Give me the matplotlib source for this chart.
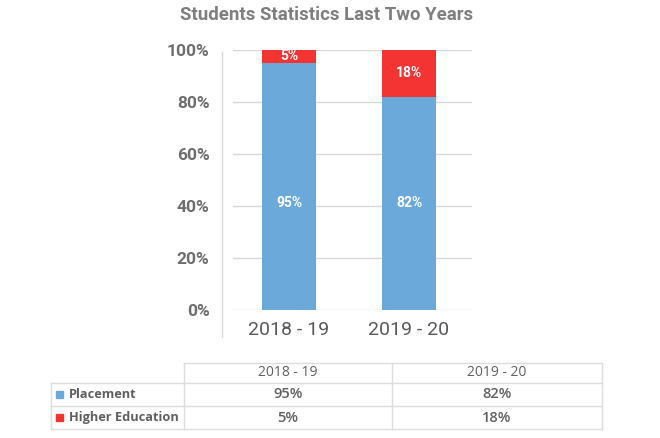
import matplotlib.pyplot as plt
from matplotlib.lines import Line2D
from matplotlib.patches import Rectangle

years = ['2018 - 19', '2019 - 20']
placement = [95, 82]
higher_edu = [5, 18]
series_names = ['Placement', 'Higher Education']
yticks = [0, 20, 40, 60, 80, 100]

blue = '#6CA9DB'
red = '#F43333'
grey = '#5F5F5F'
gridc = '#D9D9D9'

W, H = 660, 438
fig = plt.figure(figsize=(W / 100, H / 100), dpi=100)


def fx(px):
    return px / W


def fy(py):
    return 1 - py / H


ax = fig.add_axes([fx(233), fy(310), fx(472) - fx(233), fy(50) - fy(310)])
x = list(range(len(years)))
ax.bar(x, placement, width=0.45, color=blue, zorder=3)
ax.bar(x, higher_edu, width=0.45, bottom=placement, color=red, zorder=3)

# the placement labels sit at the same height in both bars
lab_y = min(placement) / 2
for i in x:
    ax.text(i, lab_y, f'{placement[i]}%', ha='center', va='center',
            color='white', fontsize=10, fontweight='bold', family='Roboto')
    ax.text(i, placement[i] + higher_edu[i] / 2, f'{higher_edu[i]}%', ha='center',
            va='center', color='white', fontsize=10, fontweight='bold', family='Roboto')

ax.set_xlim(-0.467, 1.525)
ax.set_ylim(0, 100)
ax.set_yticks(yticks)
ax.set_yticklabels([f'{t}%' for t in yticks])
ax.yaxis.grid(True, color=gridc, lw=1, zorder=0)
for s in ax.spines.values():
    s.set_visible(False)
ax.tick_params(axis='y', length=0, pad=17, labelsize=12.5, labelcolor='#6E6E6E')
ax.tick_params(axis='x', length=0, pad=8, labelsize=14, labelcolor='#595959')
ax.set_xticks(x)
ax.set_xticklabels(years)
for lab in ax.get_yticklabels():
    lab.set_fontfamily('Roboto')
    lab.set_fontweight('bold')
for lab in ax.get_xticklabels():
    lab.set_fontfamily('Roboto')

# vertical axis line drawn left of the plot area
fig.add_artist(Line2D([fx(222), fx(222)], [fy(337), fy(52)], color=gridc, lw=1))

fig.text(fx(327), fy(15), 'Students Statistics Last Two Years', ha='center', va='center',
         fontsize=13.4, fontweight='bold', color='#7F7F7F', family='Roboto')

# data table under the chart
tcol = [51, 184, 392, 602]
trow = [363, 383, 406, 429]
tl = '#DDDDDD'
fig.add_artist(Line2D([fx(tcol[1]), fx(tcol[3])], [fy(trow[0])] * 2, color=tl, lw=1))
for r in trow[1:]:
    fig.add_artist(Line2D([fx(tcol[0]), fx(tcol[3])], [fy(r)] * 2, color=tl, lw=1))
fig.add_artist(Line2D([fx(tcol[0])] * 2, [fy(trow[1]), fy(trow[3])], color=tl, lw=1))
for c in tcol[1:]:
    fig.add_artist(Line2D([fx(c), fx(c)], [fy(trow[0]), fy(trow[3])], color=tl, lw=1))

tfont = 'Open Sans'
for j, yr in enumerate(years):
    fig.text(fx((tcol[j + 1] + tcol[j + 2]) / 2), fy((trow[0] + trow[1]) / 2), yr,
             ha='center', va='center', fontsize=10, color=grey, family=tfont)

rows = [placement, higher_edu]
colors = [blue, red]
for i, name in enumerate(series_names):
    yc = (trow[i + 1] + trow[i + 2]) / 2
    fig.add_artist(Rectangle((fx(56), fy(yc + 3.5)), fx(7), 7 / H, color=colors[i]))
    fig.text(fx(69), fy(yc), name, ha='left', va='center', fontsize=9.2,
             fontweight='bold', color=grey, family=tfont)
    for j in range(len(years)):
        fig.text(fx((tcol[j + 1] + tcol[j + 2]) / 2), fy(yc), f'{rows[i][j]}%',
                 ha='center', va='center', fontsize=10.5, fontweight='semibold',
                 color=grey, family=tfont)

fig.savefig('out.png', dpi=100, facecolor='white')
